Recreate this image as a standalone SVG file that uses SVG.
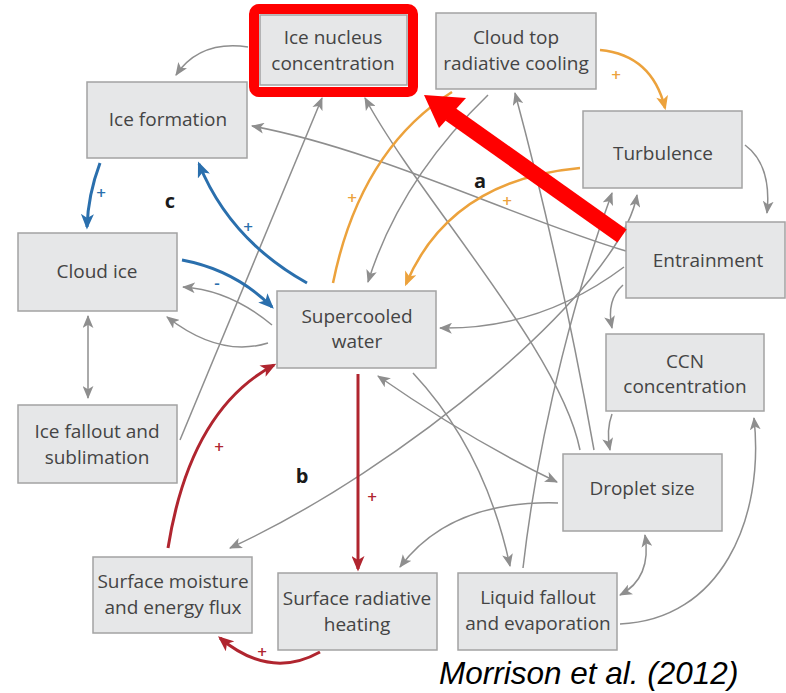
<svg xmlns="http://www.w3.org/2000/svg" width="786" height="693" viewBox="0 0 786 693">
<style>
.box{fill:#e6e7e8;stroke:#a3a3a3;stroke-width:1.5}
.t{font-family:"Open Sans","DejaVu Sans",sans-serif;font-size:19px;fill:#444444;text-anchor:middle}
.lbl{font-family:"Open Sans","DejaVu Sans",sans-serif;font-size:20px;font-weight:bold;fill:#1a1a1a;text-anchor:middle}
.g{fill:none;stroke:#8e8e8e;stroke-width:1.5;marker-end:url(#mg)}
.gd{fill:none;stroke:#8e8e8e;stroke-width:1.5;marker-end:url(#mg);marker-start:url(#mg)}
.b{fill:none;stroke:#2a6fad;stroke-width:3;marker-end:url(#mb)}
.r{fill:none;stroke:#b0252f;stroke-width:3;marker-end:url(#mr)}
.o{fill:none;stroke:#eca23c;stroke-width:2.5;marker-end:url(#mo)}
.pb,.pr,.po{font-family:"Open Sans",sans-serif;font-size:17px;font-weight:600;text-anchor:middle}
.pb{fill:#2a6fad}
.pr{fill:#b0252f}
.po{fill:#eca23c}
</style>
<defs>
<marker id="mg" viewBox="0 0 12 10" refX="11" refY="5" markerWidth="13" markerHeight="11" markerUnits="userSpaceOnUse" orient="auto-start-reverse"><path d="M0,0 L12,5 L0,10 L3,5 z" fill="#8e8e8e"/></marker>
<marker id="mb" viewBox="0 0 12 10" refX="10" refY="5" markerWidth="16" markerHeight="13" markerUnits="userSpaceOnUse" orient="auto"><path d="M0,0 L12,5 L0,10 L3,5 z" fill="#2a6fad"/></marker>
<marker id="mr" viewBox="0 0 12 10" refX="10" refY="5" markerWidth="16" markerHeight="13" markerUnits="userSpaceOnUse" orient="auto"><path d="M0,0 L12,5 L0,10 L3,5 z" fill="#b0252f"/></marker>
<marker id="mo" viewBox="0 0 12 10" refX="10" refY="5" markerWidth="15" markerHeight="12" markerUnits="userSpaceOnUse" orient="auto"><path d="M0,0 L12,5 L0,10 L3,5 z" fill="#eca23c"/></marker>
</defs>
<rect width="786" height="693" fill="#ffffff"/>

<g id="connectors">
<path class="g" d="M248,47 Q200,40 176,75"/>
<path class="g" d="M626,251 C520,220 380,150 252,126"/>
<path class="g" d="M580,450 C560,350 420,200 365,98"/>
<path class="g" d="M594,450 Q560,260 515,93"/>
<path class="g" d="M180,440 L322,98"/>
<path class="g" d="M745,145 Q772,165 767,213"/>
<path class="g" d="M624,267 Q540,330 440,328"/>
<path class="g" d="M623,285 Q606,300 612,328"/>
<path class="g" d="M612,414 Q606,430 610,450"/>
<path class="g" d="M620,624 C720,620 765,520 754,418"/>
<path class="gd" d="M645,535 Q652,578 620,595"/>
<path class="g" d="M558,503 Q450,500 400,567"/>
<path class="gd" d="M378,376 Q470,440 557,482"/>
<path class="g" d="M413,373 Q485,450 510,566"/>
<path class="g" d="M523,568 C540,420 580,280 612,193"/>
<path class="gd" d="M230,548 C400,470 620,290 637,195"/>
<path class="g" d="M488,95 Q400,180 368,282"/>
<path class="g" d="M272,325 Q230,290 183,287"/>
<path class="g" d="M268,343 Q220,358 167,317"/>
<path class="gd" d="M88,316 L88,398"/>

<path class="b" d="M100,163 Q88,195 87,227"/>
<path class="b" d="M307,283 Q230,240 199,164"/>
<path class="b" d="M182,260 Q235,270 272,307"/>
<path class="r" d="M168,548 Q190,410 274,365"/>
<path class="r" d="M358,374 L358,569"/>
<path class="r" d="M320,652 Q270,680 220,638"/>
<path class="o" d="M600,50 Q652,55 665,108"/>
<path class="o" d="M580,168 Q450,180 406,284"/>
<path fill="none" stroke="#eca23c" stroke-width="2.5" d="M333,283 Q360,150 452,92"/>

<text class="pb" x="101" y="199">+</text>
<text class="pb" x="248" y="233">+</text>
<text class="pb" x="217" y="289">-</text>
<text class="pr" x="219" y="453">+</text>
<text class="pr" x="372" y="503">+</text>
<text class="pr" x="262" y="658">+</text>
<text class="po" x="616" y="81">+</text>
<text class="po" x="507" y="207">+</text>
<text class="po" x="352" y="204">+</text>
</g>

<g id="ice-nucleus"><rect class="box" x="260" y="15" width="147" height="70"/><text class="t" x="333" y="44">Ice nucleus</text><text class="t" x="333" y="70">concentration</text></g>
<g id="cloud-top"><rect class="box" x="436" y="13" width="160" height="76"/><text class="t" x="516" y="44">Cloud top</text><text class="t" x="516" y="70">radiative cooling</text></g>
<g id="turbulence"><rect class="box" x="583" y="111" width="159" height="77"/><text class="t" x="663" y="160">Turbulence</text></g>
<g id="entrainment"><rect class="box" x="626" y="222" width="159" height="76"/><text class="t" x="708" y="267">Entrainment</text></g>
<g id="ccn"><rect class="box" x="606" y="334" width="158" height="77"/><text class="t" x="685" y="368">CCN</text><text class="t" x="685" y="393">concentration</text></g>
<g id="droplet"><rect class="box" x="563" y="454" width="159" height="77"/><text class="t" x="642" y="495">Droplet size</text></g>
<g id="liquid-fallout"><rect class="box" x="458" y="573" width="159" height="77"/><text class="t" x="538" y="604">Liquid fallout</text><text class="t" x="538" y="630">and evaporation</text></g>
<g id="surface-heating"><rect class="box" x="278" y="573" width="159" height="77"/><text class="t" x="357" y="605">Surface radiative</text><text class="t" x="357" y="631">heating</text></g>
<g id="surface-moisture"><rect class="box" x="93" y="557" width="159" height="76"/><text class="t" x="173" y="588">Surface moisture</text><text class="t" x="173" y="614">and energy flux</text></g>
<g id="ice-fallout"><rect class="box" x="18" y="405" width="159" height="78"/><text class="t" x="97" y="438">Ice fallout and</text><text class="t" x="97" y="464">sublimation</text></g>
<g id="cloud-ice"><rect class="box" x="18" y="233" width="159" height="78"/><text class="t" x="97" y="278">Cloud ice</text></g>
<g id="ice-formation"><rect class="box" x="87" y="82" width="160" height="76"/><text class="t" x="168" y="126">Ice formation</text></g>
<g id="supercooled"><rect class="box" x="277" y="291" width="159" height="77"/><text class="t" x="357" y="323">Supercooled</text><text class="t" x="357" y="348">water</text></g>

<g id="labels">
<text class="lbl" x="480" y="188">a</text>
<text class="lbl" x="302" y="483">b</text>
<text class="lbl" x="170" y="208">c</text>
</g>

<g id="highlight">
<rect x="254" y="9" width="159" height="83" rx="5" fill="none" stroke="#ff0000" stroke-width="10"/>
<line x1="622" y1="236" x2="450" y2="114" stroke="#ff0000" stroke-width="16"/>
<polygon points="424,95 439,128 466,98" fill="#ff0000"/>
</g>

<text x="439" y="684" font-family="Liberation Sans, Arial, sans-serif" font-style="italic" font-size="31.5" fill="#000000">Morrison et al. (2012)</text>
</svg>
